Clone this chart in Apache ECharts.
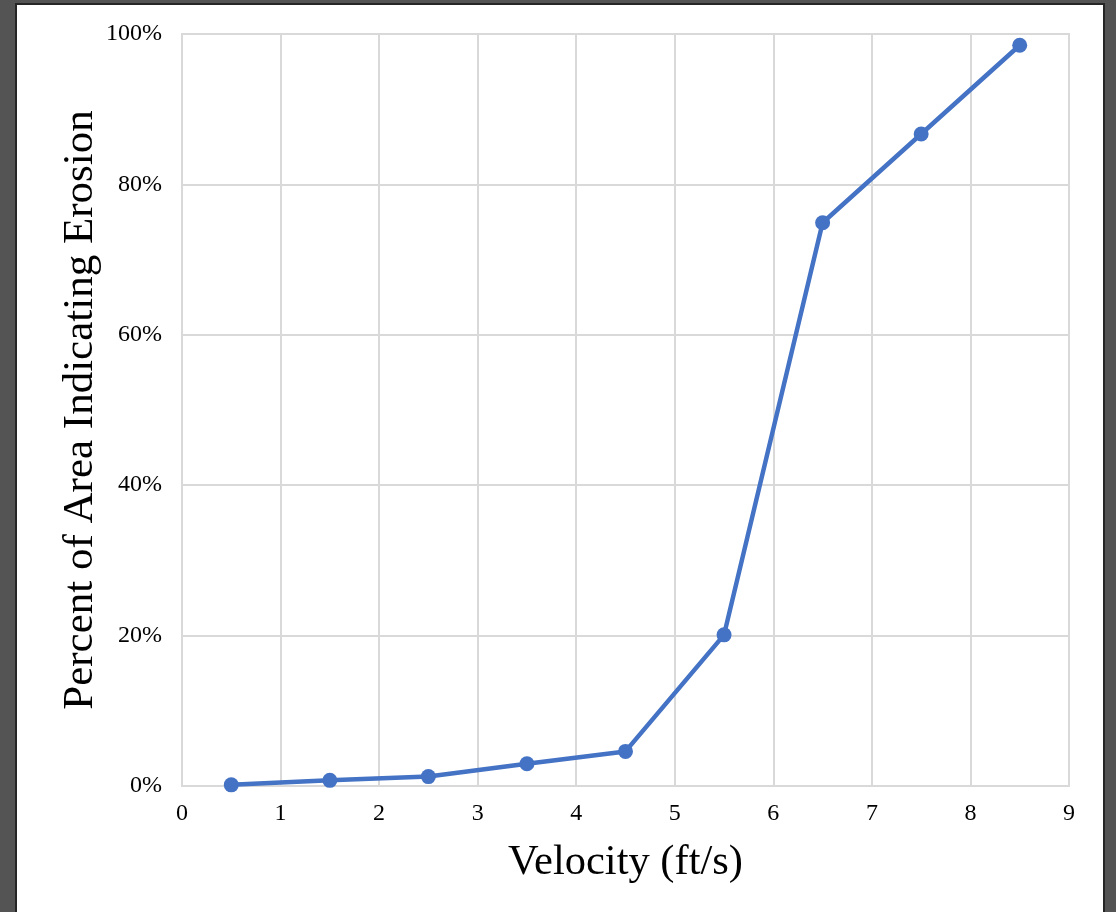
<!DOCTYPE html>
<html>
<head>
<meta charset="utf-8">
<script src="https://cdn.jsdelivr.net/npm/echarts@6/dist/echarts.min.js"></script>
<style>
html,body{margin:0;padding:0;background:#545454;width:1116px;height:912px;overflow:hidden;}
#frame{position:absolute;left:15px;top:3px;width:1090px;height:930px;box-sizing:border-box;border:2px solid #262626;background:#fff;}
#chart{position:absolute;left:0;top:0;width:1116px;height:912px;}
</style>
</head>
<body>
<div id="frame"></div>
<div id="chart"></div>
<script>
const velocity = [0.5, 1.5, 2.5, 3.5, 4.5, 5.5, 6.5, 7.5, 8.5];
const percentErosion = [0.15, 0.75, 1.25, 2.95, 4.6, 20.1, 74.9, 86.7, 98.5];
const xTitle = 'Velocity (ft/s)';
const yTitle = 'Percent of Area Indicating Erosion';

const font = '"Liberation Serif", "Times New Roman", serif';
const chart = echarts.init(document.getElementById('chart'), null, {renderer: 'canvas'});
chart.setOption({
  backgroundColor: 'transparent',
  animation: false,
  grid: {left: 182, right: 47, top: 34, bottom: 126, show: true, borderColor: '#d9d9d9', borderWidth: 2, containLabel: false},
  xAxis: {
    type: 'value', min: 0, max: 9, interval: 1,
    name: xTitle, nameLocation: 'middle', nameGap: 55, nameMoveOverlap: false,
    nameTextStyle: {fontFamily: font, fontSize: 42.5, color: '#000'},
    axisLine: {show: true, lineStyle: {color: '#d9d9d9', width: 2}},
    axisTick: {show: false},
    axisLabel: {fontFamily: font, fontSize: 24, color: '#000', margin: 16},
    splitLine: {show: true, lineStyle: {color: '#d9d9d9', width: 2}}
  },
  yAxis: {
    type: 'value', min: 0, max: 100, interval: 20,
    name: yTitle, nameLocation: 'middle', nameGap: 80, nameRotate: 90, nameMoveOverlap: false,
    nameTextStyle: {fontFamily: font, fontSize: 43, color: '#000'},
    axisLine: {show: true, lineStyle: {color: '#d9d9d9', width: 2}},
    axisTick: {show: false},
    axisLabel: {fontFamily: font, fontSize: 24, color: '#000', margin: 20, formatter: '{value}%'},
    splitLine: {show: true, lineStyle: {color: '#d9d9d9', width: 2}}
  },
  series: [{
    type: 'line',
    data: velocity.map((v, i) => [v, percentErosion[i]]),
    symbol: 'circle', symbolSize: 15,
    lineStyle: {color: '#4472C4', width: 4.5},
    itemStyle: {color: '#4472C4'}
  }]
});
</script>
</body>
</html>
